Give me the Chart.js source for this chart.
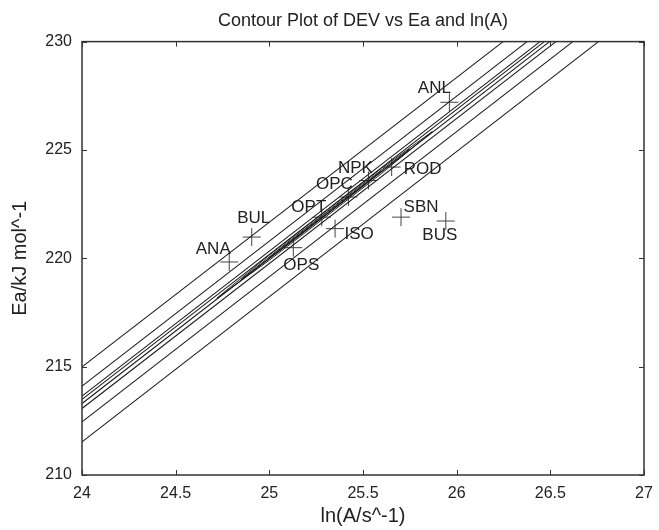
<!DOCTYPE html>
<html lang="en">
<head>
<meta charset="UTF-8">
<title>Contour Plot of DEV vs Ea and ln(A)</title>
<script src="https://cdn.jsdelivr.net/npm/chart.js"></script>
<style>
  html, body { margin: 0; padding: 0; background: #fff; }
</style>
</head>
<body>
<canvas id="contour" width="659" height="530"></canvas>
<script>
// straight contour levels: Ea where each crosses ln(A) = 24, and ln(A) where each reaches Ea = 230
const lineStartX = 24;
const lineStartY = [214.99, 214.10, 213.64, 213.49, 213.30, 213.07, 212.45, 211.53];
const lineEndX = [26.248, 26.376, 26.445, 26.468, 26.496, 26.530, 26.620, 26.757];
const lineEndY = 230;

// inner closed contours around the minimum valley
const loopAX = [24.72, 25.0, 25.3, 25.6, 25.87, 25.6, 25.3, 25.0, 24.72];
const loopAY = [218.16, 220.15, 222.17, 224.16, 225.85, 223.92, 221.91, 219.91, 218.16];
const loopBX = [24.85, 25.1, 25.5, 25.75, 25.5, 25.1, 24.85];
const loopBY = [219.03, 220.76, 223.44, 225.05, 223.32, 220.64, 219.03];
const loopCX = [25.0, 25.3, 25.6, 25.3, 25.0];
const loopCY = [220.03, 222.07, 224.04, 222.01, 220.03];

// fitted points per sample
const names = ['ANA', 'BUL', 'OPS', 'OPT', 'ISO', 'OPC', 'NPK', 'ROD', 'SBN', 'BUS', 'ANL'];
const lnA = [24.786, 24.906, 25.128, 25.280, 25.351, 25.422, 25.529, 25.653, 25.703, 25.942, 25.961];
const ea = [219.83, 220.98, 220.49, 221.90, 221.37, 222.83, 223.59, 224.21, 221.90, 221.72, 227.20];

const xTicks = [24, 24.5, 25, 25.5, 26, 26.5, 27];
const yTicks = [210, 215, 220, 225, 230];

// where each sample's name sits relative to its cross (px)
const labelShift = {
  ANA: [-16, -13], BUL: [2, -19], OPS: [8, 18], OPT: [-13, -10], ISO: [24, 6],
  OPC: [-14, -13], NPK: [-13, -12], ROD: [31, 2], SBN: [20, -10], BUS: [-6, 14], ANL: [-15, -14]
};

const FONT = '"Liberation Sans", Arial, sans-serif';
const INK = '#222';

const datasets = [];
lineStartY.forEach((y0, i) => {
  datasets.push({
    data: [{ x: lineStartX, y: y0 }, { x: lineEndX[i], y: lineEndY }],
    showLine: true, borderColor: '#1a1a1a', borderWidth: 1.1, pointRadius: 0, fill: false
  });
});
[[loopAX, loopAY], [loopBX, loopBY], [loopCX, loopCY]].forEach(([xs, ys]) => {
  datasets.push({
    data: xs.map((x, i) => ({ x: x, y: ys[i] })),
    showLine: true, borderColor: '#2a2a2a', borderWidth: 1, pointRadius: 0, fill: false
  });
});
datasets.push({
  data: lnA.map((x, i) => ({ x: x, y: ea[i] })),
  showLine: false, pointStyle: 'cross', pointRadius: 9, borderColor: '#444', borderWidth: 1
});
const markerIndex = datasets.length - 1;

// frame around the plot with inward tick marks
const frame = {
  id: 'frame',
  afterDraw(chart) {
    const { ctx, chartArea: a, scales } = chart;
    ctx.save();
    ctx.strokeStyle = '#333';
    ctx.lineWidth = 1.5;
    ctx.strokeRect(a.left, a.top, a.right - a.left, a.bottom - a.top);
    ctx.lineWidth = 1;
    ctx.beginPath();
    xTicks.forEach(v => {
      const px = Math.round(scales.x.getPixelForValue(v)) + 0.5;
      ctx.moveTo(px, a.bottom); ctx.lineTo(px, a.bottom - 5);
      ctx.moveTo(px, a.top); ctx.lineTo(px, a.top + 5);
    });
    yTicks.forEach(v => {
      const py = Math.round(scales.y.getPixelForValue(v)) + 0.5;
      ctx.moveTo(a.left, py); ctx.lineTo(a.left + 5, py);
      ctx.moveTo(a.right, py); ctx.lineTo(a.right - 5, py);
    });
    ctx.stroke();
    ctx.restore();
  }
};

// sample names beside their crosses
const sampleNames = {
  id: 'sampleNames',
  afterDatasetsDraw(chart) {
    const { ctx } = chart;
    const pts = chart.getDatasetMeta(markerIndex).data;
    ctx.save();
    ctx.font = '17px ' + FONT;
    ctx.fillStyle = INK;
    ctx.textAlign = 'center';
    ctx.textBaseline = 'middle';
    pts.forEach((p, i) => {
      const s = labelShift[names[i]];
      ctx.fillText(names[i], p.x + s[0], p.y + s[1]);
    });
    ctx.restore();
  }
};

new Chart(document.getElementById('contour'), {
  type: 'scatter',
  data: { datasets: datasets },
  options: {
    responsive: false,
    animation: false,
    layout: { padding: { left: 0, right: 15, top: 0, bottom: 0 } },
    plugins: {
      legend: { display: false },
      tooltip: { enabled: false },
      title: {
        display: true,
        text: 'Contour Plot of DEV vs Ea and ln(A)',
        fullSize: false,
        color: INK,
        font: { family: FONT, size: 18, weight: 'normal' },
        padding: { top: 10, bottom: 10 }
      }
    },
    scales: {
      x: {
        type: 'linear', min: 24, max: 27,
        afterBuildTicks: s => { s.ticks = xTicks.map(v => ({ value: v })); },
        afterFit: s => { s.height = 55; s.paddingLeft = 0; s.paddingRight = 0; },
        grid: { color: 'rgba(0,0,0,0)', drawTicks: false },
        border: { display: false },
        ticks: { color: INK, padding: 9, font: { family: FONT, size: 16 }, callback: v => String(v) },
        title: {
          display: true, text: 'ln(A/s^-1)', color: INK,
          font: { family: FONT, size: 20 }, padding: { top: 0, bottom: 2 }
        }
      },
      y: {
        type: 'linear', min: 210, max: 230,
        afterBuildTicks: s => { s.ticks = yTicks.map(v => ({ value: v })); },
        afterFit: s => { s.width = 82; s.paddingTop = 0; s.paddingBottom = 0; },
        grid: { color: 'rgba(0,0,0,0)', drawTicks: false },
        border: { display: false },
        ticks: { color: INK, padding: 10, font: { family: FONT, size: 16 }, callback: v => String(v) },
        title: {
          display: true, text: 'Ea/kJ mol^-1', color: INK,
          font: { family: FONT, size: 20 }, padding: { top: 8, bottom: 0 }
        }
      }
    }
  },
  plugins: [frame, sampleNames]
});
</script>
</body>
</html>
